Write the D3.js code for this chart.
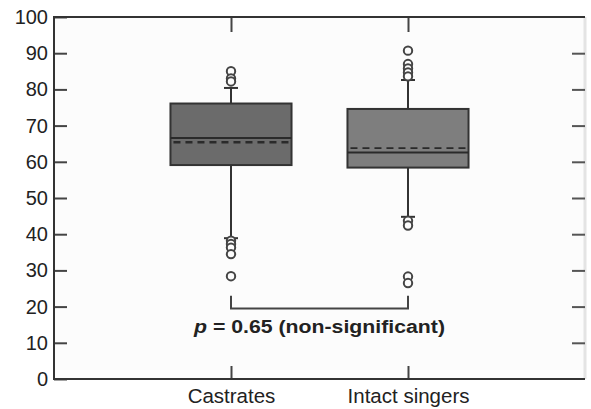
<!DOCTYPE html>
<html>
<head>
<meta charset="utf-8" />
<script src="https://d3js.org/d3.v7.min.js"></script>
<style>
  body { margin: 0; background: #fff; }
  text { font-family: "Liberation Sans", Arial, sans-serif; fill: #222; }
</style>
</head>
<body>
<svg id="chart" width="591" height="409"></svg>
<script>
// --- data ---
var categories = ["Castrates", "Intact singers"];
var q1 = [59.1, 58.4];
var median = [66.6, 62.6];
var q3 = [76.1, 74.6];
var mean = [65.4, 63.8];
var whiskerLow = [38.9, 44.8];
var whiskerHigh = [80.4, 82.6];
var outliers = [
    [85.0, 83.0, 82.2, 38.2, 37.3, 36.3, 34.5, 28.4],
    [90.7, 87.0, 85.8, 84.7, 83.6, 43.7, 42.4, 28.3, 26.5]
];
var fills = ["#6b6b6b", "#7e7e7e"];
var yTicks = [0, 10, 20, 30, 40, 50, 60, 70, 80, 90, 100];
var pLabel = "0.65 (non-significant)";
var bracket = [23, 19.5];

var svg = d3.select("#chart");
var plotL = 54, plotR = 585, plotT = 17, plotB = 379;

var x = d3.scaleLinear().domain([0, 3]).range([plotL, plotR]);
var y = d3.scaleLinear().domain([0, 100]).range([plotB, plotT]);
var half = x(0.342) - x(0);
var cap = 7;

// fond de la zone
svg.append("rect")
    .attr("x", plotL).attr("y", plotT)
    .attr("width", plotR - plotL).attr("height", plotB - plotT)
    .attr("fill", "#fcfcfc");
svg.append("line")
    .attr("x1", plotR).attr("x2", plotR).attr("y1", plotT).attr("y2", plotB)
    .attr("stroke", "#e4e4e4").attr("stroke-width", 3);

// axes
var yAxis = d3.axisLeft(y).tickValues(yTicks).tickSize(-13).tickPadding(20);
var gy = svg.append("g").attr("transform", "translate(" + plotL + ",0)").call(yAxis);
gy.select(".domain").remove();
gy.selectAll(".tick line").attr("stroke", "#444").attr("stroke-width", 2);
gy.selectAll(".tick text")
    .attr("x", -6)
    .style("font-size", "20px")
    .style("font-family", "Liberation Sans, Arial, sans-serif")
    .attr("fill", "#222");

var yAxisR = d3.axisRight(y).tickValues(yTicks.slice(1, -1)).tickSize(-13).tickFormat("");
var gyr = svg.append("g").attr("transform", "translate(" + plotR + ",0)").call(yAxisR);
gyr.select(".domain").remove();
gyr.selectAll(".tick line").attr("stroke", "#555").attr("stroke-width", 2);

var xAxis = d3.axisBottom(x).tickValues([1, 2]).tickSize(-13)
    .tickFormat(function(d) { return categories[d - 1]; });
var gx = svg.append("g").attr("transform", "translate(0," + plotB + ")").call(xAxis);
gx.select(".domain").remove();
gx.selectAll(".tick line").attr("stroke", "#444").attr("stroke-width", 2);
gx.selectAll(".tick text")
    .attr("y", 9)
    .style("font-size", "20.5px")
    .style("font-family", "Liberation Sans, Arial, sans-serif")
    .attr("fill", "#222");

var xAxisT = d3.axisTop(x).tickValues([1, 2]).tickSize(-15).tickFormat("");
var gxt = svg.append("g").attr("transform", "translate(0," + plotT + ")").call(xAxisT);
gxt.select(".domain").remove();
gxt.selectAll(".tick line").attr("stroke", "#444").attr("stroke-width", 2);

// cadre gauche, bas, haut
svg.append("path")
    .attr("d", "M" + plotR + "," + plotT + "H" + plotL + "V" + plotB + "H" + plotR)
    .attr("fill", "none").attr("stroke", "#333").attr("stroke-width", 2);

// boites
var boxes = svg.append("g");
categories.forEach(function(c, i) {
    var cx = x(i + 1);
    var g = boxes.append("g");
    // moustaches
    g.append("line")
        .attr("x1", cx).attr("x2", cx)
        .attr("y1", y(q3[i])).attr("y2", y(whiskerHigh[i]))
        .attr("stroke", "#333").attr("stroke-width", 2);
    g.append("line")
        .attr("x1", cx).attr("x2", cx)
        .attr("y1", y(q1[i])).attr("y2", y(whiskerLow[i]))
        .attr("stroke", "#333").attr("stroke-width", 2);
    [whiskerHigh[i], whiskerLow[i]].forEach(function(v) {
        g.append("line")
            .attr("x1", cx - cap).attr("x2", cx + cap)
            .attr("y1", y(v)).attr("y2", y(v))
            .attr("stroke", "#333").attr("stroke-width", 2);
    });
    // boite
    g.append("rect")
        .attr("x", cx - half).attr("y", y(q3[i]))
        .attr("width", half * 2).attr("height", y(q1[i]) - y(q3[i]))
        .attr("fill", fills[i]).attr("stroke", "#333").attr("stroke-width", 2);
    g.append("line")
        .attr("x1", cx - half).attr("x2", cx + half)
        .attr("y1", y(median[i])).attr("y2", y(median[i]))
        .attr("stroke", "#2a2a2a").attr("stroke-width", 2);
    g.append("line")
        .attr("x1", cx - half + 3).attr("x2", cx + half)
        .attr("y1", y(mean[i])).attr("y2", y(mean[i]))
        .attr("stroke", "#2a2a2a").attr("stroke-width", i === 0 ? 2.5 : 1.8)
        .attr("stroke-dasharray", "7,5");
    // valeurs aberrantes
    g.selectAll("circle")
        .data(outliers[i])
        .enter()
        .append("circle")
        .attr("cx", cx)
        .attr("cy", function(d) { return y(d); })
        .attr("r", 4.2)
        .attr("fill", "#fcfcfc")
        .attr("stroke", "#444")
        .attr("stroke-width", 2);
});

// crochet + p
svg.append("path")
    .attr("d", "M" + x(1) + "," + y(bracket[0]) + "V" + y(bracket[1]) +
               "H" + x(2) + "V" + y(bracket[0]))
    .attr("fill", "none").attr("stroke", "#444").attr("stroke-width", 2);

var pt = svg.append("text")
    .attr("x", (x(1) + x(2)) / 2)
    .attr("y", 333)
    .attr("text-anchor", "middle")
    .style("font-size", "18px")
    .style("font-weight", "bold")
    .attr("textLength", 251)
    .attr("lengthAdjust", "spacingAndGlyphs");
pt.append("tspan").style("font-style", "italic").text("p");
pt.append("tspan").text(" = " + pLabel);
</script>
</body>
</html>
